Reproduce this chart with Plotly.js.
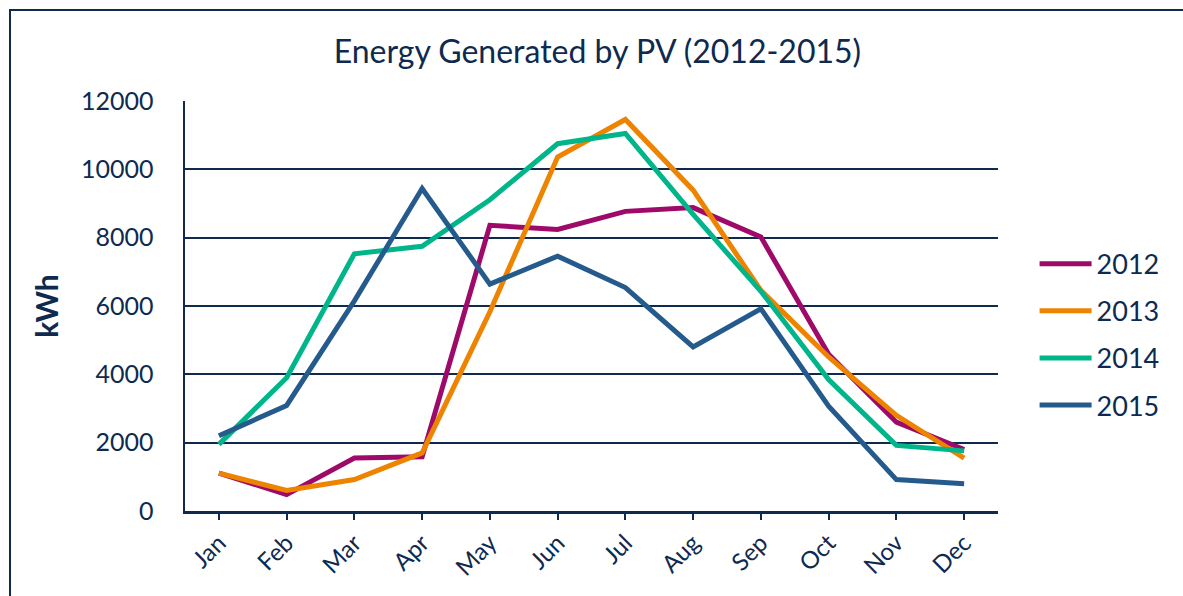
<!DOCTYPE html>
<html>
<head>
<meta charset="utf-8">
<script src="https://cdn.plot.ly/plotly-3.0.1.min.js"></script>
<style>
  html, body { margin: 0; padding: 0; background: #fff; }
  #wrap { position: relative; width: 1183px; height: 596px; overflow: hidden; }
  #chart { width: 1183px; height: 596px; }
  #frame { position: absolute; left: 9px; top: 9px; width: 1200px; height: 620px;
           border: 2px solid #0e2a4f; pointer-events: none; box-sizing: border-box; }
</style>
</head>
<body>
<div id="wrap">
  <div id="chart"></div>
  <div id="frame"></div>
</div>
<script>
const months = ["Jan","Feb","Mar","Apr","May","Jun","Jul","Aug","Sep","Oct","Nov","Dec"];
const years = ["2012","2013","2014","2015"];
const kwh2012 = [1110, 480, 1550, 1590, 8360, 8240, 8770, 8880, 8020, 4590, 2600, 1800];
const kwh2013 = [1110, 600, 920, 1700, 5830, 10360, 11460, 9390, 6460, 4510, 2800, 1550];
const kwh2014 = [1950, 3900, 7530, 7750, 9110, 10750, 11050, 8680, 6430, 3850, 1920, 1760];
const kwh2015 = [2200, 3090, 6150, 9440, 6640, 7460, 6540, 4800, 5920, 3070, 920, 800];
const seriesValues = [kwh2012, kwh2013, kwh2014, kwh2015];
const colors = ["#9e0a6a", "#ee8300", "#00b589", "#255b8c"];
const navy = "#0e2a4f";
const fontFam = "Lato, 'Open Sans', sans-serif";

const traces = years.map((y, i) => ({
  type: "scatter",
  mode: "lines",
  name: y,
  legendgroup: "g" + i,
  x: months,
  y: seriesValues[i],
  line: { color: colors[i], width: 5 }
}));

const layout = {
  width: 1183, height: 596,
  margin: { l: 185, r: 185, t: 101, b: 85 },
  paper_bgcolor: "#fff",
  plot_bgcolor: "#fff",
  font: { family: fontFam, color: navy },
  title: {
    text: "Energy Generated by PV (2012-2015)",
    font: { family: fontFam, size: 32, color: navy },
    x: 0.505, xanchor: "center", y: 0.913, yanchor: "middle"
  },
  xaxis: {
    type: "category",
    range: [-0.5, 11.5],
    showgrid: false,
    showline: true, linecolor: navy, linewidth: 2.5,
    ticks: "outside", ticklen: 6, tickwidth: 2, tickcolor: navy,
    tickangle: -45,
    tickfont: { family: fontFam, size: 24, color: navy },
    zeroline: false
  },
  yaxis: {
    range: [0, 12000],
    dtick: 2000,
    tickformat: "d",
    showgrid: true, gridcolor: navy, gridwidth: 2,
    showline: true, linecolor: navy, linewidth: 2.5,
    ticks: "", ticklabelstandoff: 24,
    tickfont: { family: fontFam, size: 25, color: navy },
    zeroline: false,
    title: { text: "<b>kWh</b>", font: { family: fontFam, size: 30, color: navy }, standoff: 14 }
  },
  legend: {
    x: 1.045, xanchor: "left", y: 0.43, yanchor: "middle",
    font: { family: fontFam, size: 27, color: navy },
    tracegroupgap: 9, itemwidth: 52,
    bgcolor: "rgba(0,0,0,0)"
  },
  showlegend: true
};

Plotly.newPlot("chart", traces, layout, { displayModeBar: false, staticPlot: true });
</script>
</body>
</html>
